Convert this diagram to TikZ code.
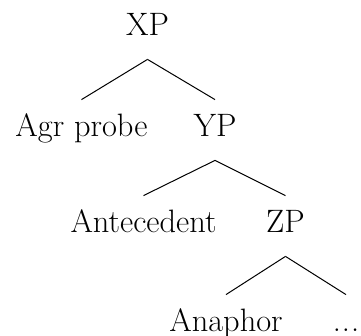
\documentclass[tikz,border=0pt]{standalone}
\begin{document}
\begin{tikzpicture}[x=0.5pt, y=-0.5pt]
    % Define styles
    \tikzset{
        label/.style={anchor=base, font=\fontsize{16.2}{19}\selectfont,
            text height=10.5pt, text depth=3.5pt, inner xsep=0pt, inner ysep=8pt},
        branch/.style={black, line width=0.5pt}
    }

    % Fix the frame
    \useasboundingbox (0,0) rectangle (361,336);

    % Tree labels (placed at their baselines)
    \node[label] (xp) at (147.5,36) {XP};
    \node[label] (agr) at (81.5,137) {Agr probe};
    \node[label] (yp) at (215,137) {YP};
    \node[label] (ante) at (143.5,233) {Antecedent};
    \node[label] (zp) at (285.5,233) {ZP};
    \node[label] (ana) at (226,332) {Anaphor};
    \node[label] (dots) at (346,332) {.\kern0.5pt.\kern0.5pt.};

    % Branches
    \draw[branch] (xp.south) -- (agr.north);
    \draw[branch] (xp.south) -- (yp.north);
    \draw[branch] (yp.south) -- (ante.north);
    \draw[branch] (yp.south) -- (zp.north);
    \draw[branch] (zp.south) -- (ana.north);
    \draw[branch] (zp.south) -- (dots.north);

\end{tikzpicture}
\end{document}
